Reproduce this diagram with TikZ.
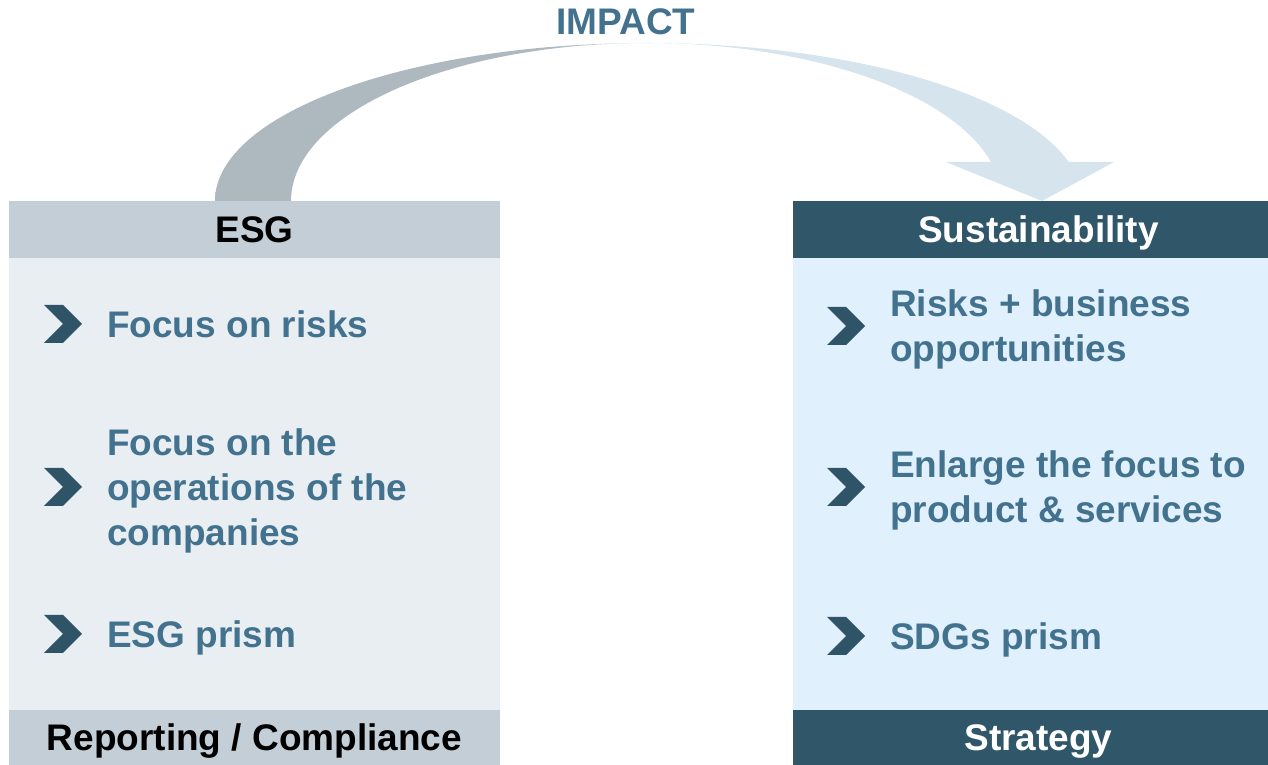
\documentclass[tikz,border=0pt]{standalone}
\usepackage{fontspec}
\setmainfont{Liberation Sans}
\usetikzlibrary{positioning,shapes.symbols}

\definecolor{esgbar}{HTML}{C3CED7}
\definecolor{esgbody}{HTML}{E9EEF2}
\definecolor{susbar}{HTML}{305669}
\definecolor{susbody}{HTML}{E0F0FC}
\definecolor{itemtext}{HTML}{43728F}
\definecolor{chevfill}{HTML}{2F5367}
\definecolor{arcgrey}{HTML}{ADB8BF}
\definecolor{arclight}{HTML}{D6E5ED}

\pgfdeclarehorizontalshading{impactshade}{100bp}{color(0bp)=(arcgrey); color(43bp)=(arcgrey); color(51bp)=(arclight); color(100bp)=(arclight)}

\tikzstyle{bar} = [rectangle, inner sep=0pt, outer sep=0pt, minimum width=491pt,
    minimum height=57pt, text height=26.5pt, text depth=0pt,
    font=\bfseries\fontsize{37}{44}\selectfont]
\tikzstyle{panel} = [rectangle, inner sep=0pt, outer sep=0pt, minimum width=491pt, minimum height=452pt]
\tikzstyle{chevron} = [signal, signal from=west, signal to=east, fill=chevfill,
    minimum width=38pt, minimum height=38pt, inner sep=0pt, outer sep=0pt]
\tikzstyle{item} = [text=itemtext, align=left, inner sep=0pt, text depth=0pt,
    font=\bfseries\fontsize{37}{45}\selectfont]

\begin{document}
\begin{tikzpicture}[x=1pt, y=1pt, node distance=25pt]
    \clip (0,0) rectangle (1268,765);

    % the curved impact arrow
    \shade [shading=impactshade] (215,564)
        arc [start angle=180, end angle=90, x radius=432, y radius=158]
        arc [start angle=90, end angle=14.3, x radius=435, y radius=158]
        -- (1114,603) -- (1042,564) -- (946,603) -- (991,603)
        arc [start angle=14.3, end angle=90, x radius=355, y radius=158]
        arc [start angle=90, end angle=180, x radius=356, y radius=158] -- cycle;
    \node [text=itemtext, font=\bfseries\fontsize{37}{44}\selectfont] (Impact) at (626,743) {IMPACT};

    % ESG column
    \node [bar, fill=esgbar] (ESG) at (254.5,535.5) {ESG};
    \node [panel, fill=esgbody, below=0pt of ESG] (ESGbody) {};
    \node [bar, fill=esgbar, minimum height=55pt, below=0pt of ESGbody] (Reporting) {Reporting / Compliance};

    \node [chevron] (chevA) at (63,441) {};
    \node [item, right=of chevA] (risks) {Focus on risks};
    \node [chevron] (chevB) at (63,278) {};
    \node [item, right=of chevB] (operations) {Focus on the\\operations of the\\companies};
    \node [chevron] (chevC) at (63,131) {};
    \node [item, right=of chevC] (esgprism) {ESG prism};

    % Sustainability column
    \node [bar, fill=susbar, text=white] (Sustainability) at (1038.5,535.5) {Sustainability};
    \node [panel, fill=susbody, below=0pt of Sustainability] (SUSbody) {};
    \node [bar, fill=susbar, text=white, minimum height=55pt, below=0pt of SUSbody] (Strategy) {Strategy};

    \node [chevron] (chevD) at (846,439) {};
    \node [item, right=of chevD] (opportunities) {Risks + business\\opportunities};
    \node [chevron] (chevE) at (846,278) {};
    \node [item, right=of chevE] (products) {Enlarge the focus to\\product \& services};
    \node [chevron] (chevF) at (846,129) {};
    \node [item, right=of chevF] (sdgprism) {SDGs prism};
\end{tikzpicture}
\end{document}
